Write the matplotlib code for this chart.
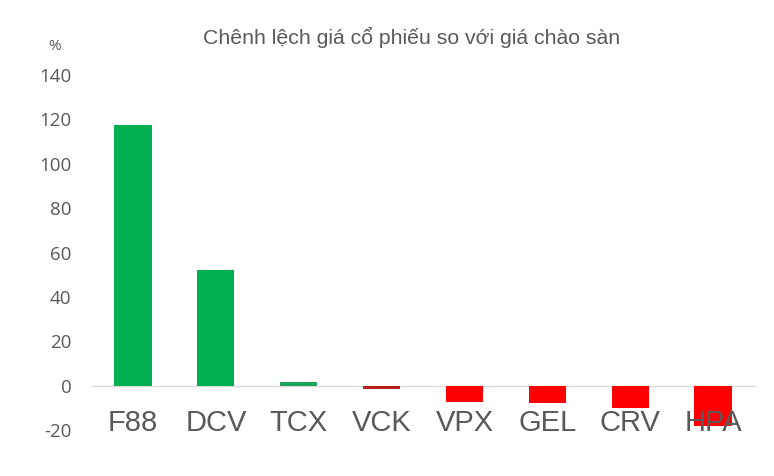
import matplotlib
matplotlib.use("Agg")
import matplotlib.pyplot as plt

categories = ["F88", "DCV", "TCX", "VCK", "VPX", "GEL", "CRV", "HPA"]
values = [117.5, 52.3, 1.6, -1.6, -7.3, -7.8, -10.0, -18.4]
colors = ["#00B050", "#00B050", "#1FA35A", "#B92020", "#FF0000", "#FF0000", "#FF0000", "#FF0000"]
yticks = [-20, 0, 20, 40, 60, 80, 100, 120, 140]
title = "Chênh lệch giá cổ phiếu so với giá chào sàn"

fig = plt.figure(figsize=(7.74, 4.76), dpi=100)
ax = fig.add_axes([91.5/774, 1-430/476, (754.5-91.5)/774, (430-75)/476])

for s in ["top", "right", "left"]:
    ax.spines[s].set_visible(False)
ax.spines["bottom"].set_position(("data", 0))
ax.spines["bottom"].set_color("#D9D9D9")
ax.spines["bottom"].set_linewidth(1)
ax.spines["bottom"].set_zorder(0.5)

x = list(range(len(categories)))
ax.bar(x, values, width=0.45, color=colors, zorder=1)

ax.set_xlim(-0.5, len(categories) - 0.5)
ax.set_ylim(-20, 140)
ax.set_yticks(yticks)
ax.set_yticklabels([str(v) for v in yticks], fontsize=13.5, color="#595959", family="Open Sans")
ax.tick_params(axis="y", length=0, pad=14.5)

ax.set_xticks(x)
ax.set_xticklabels(categories, fontsize=21, color="#595959", family="Liberation Sans")
ax.tick_params(axis="x", length=0, pad=17)
ax.xaxis.set_zorder(5)

fig.text(412/774, 1-37/476, title, ha="center", va="center", fontsize=15.3,
         color="#595959", family="Liberation Sans")
fig.text(55/774, 1-47/476, "%", ha="center", va="center", fontsize=11,
         color="#595959", family="Open Sans")

fig.savefig("out.png", dpi=100)
